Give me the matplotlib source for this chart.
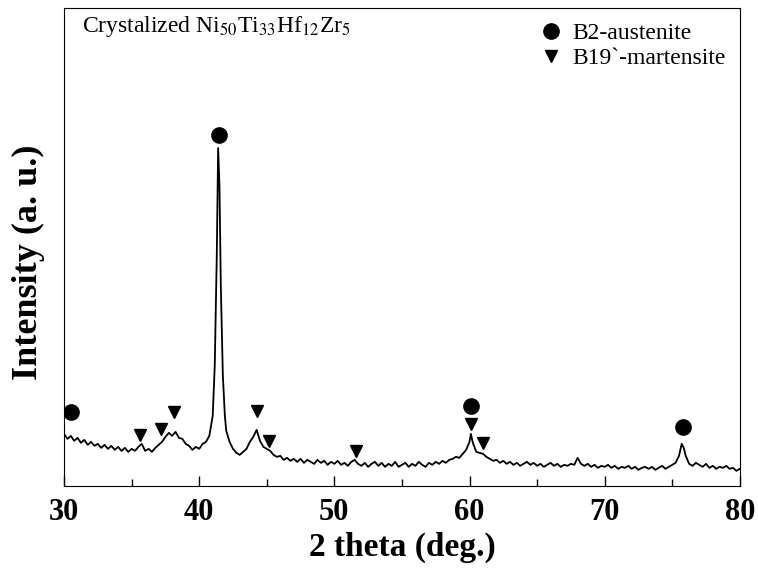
import matplotlib
matplotlib.use('Agg')
import matplotlib.pyplot as plt
from matplotlib.ticker import MultipleLocator

plt.rcParams['font.family'] = ['Liberation Serif', 'DejaVu Serif']
plt.rcParams['mathtext.fontset'] = 'stix'

# XRD pattern (intensity in arbitrary units)
two_theta = [30.0, 30.25, 30.5, 30.75, 31.0, 31.25, 31.5, 31.75, 32.0, 32.25, 32.5, 32.75,
             33.0, 33.25, 33.5, 33.75, 34.0, 34.25, 34.5, 34.75, 35.0, 35.25, 35.5, 35.75,
             36.0, 36.25, 36.5, 36.75, 37.0, 37.25, 37.5, 37.75, 38.0, 38.25, 38.5, 38.75,
             39.0, 39.25, 39.5, 39.75, 40.0, 40.25, 40.5, 40.75,
             41.0, 41.15, 41.3, 41.4, 41.5, 41.6, 41.75, 41.9, 42.0,
             42.25, 42.5, 42.75, 43.0, 43.25, 43.5, 43.75, 44.0, 44.25, 44.5, 44.75,
             45.0, 45.25, 45.5, 45.75, 46.0, 46.25, 46.5, 46.75, 47.0, 47.25, 47.5, 47.75,
             48.0, 48.25, 48.5, 48.75, 49.0, 49.25, 49.5, 49.75, 50.0, 50.25, 50.5, 50.75,
             51.0, 51.25, 51.5, 51.75, 52.0, 52.25, 52.5, 52.75, 53.0, 53.25, 53.5, 53.75,
             54.0, 54.25, 54.5, 54.75, 55.0, 55.25, 55.5, 55.75, 56.0, 56.25, 56.5, 56.75,
             57.0, 57.25, 57.5, 57.75, 58.0, 58.25, 58.5, 58.75, 59.0, 59.25, 59.5, 59.75,
             60.0, 60.1, 60.25, 60.5, 60.75, 61.0, 61.25, 61.5, 61.75,
             62.0, 62.25, 62.5, 62.75, 63.0, 63.25, 63.5, 63.75, 64.0, 64.25, 64.5, 64.75,
             65.0, 65.25, 65.5, 65.75, 66.0, 66.25, 66.5, 66.75, 67.0, 67.25, 67.5, 67.75,
             68.0, 68.25, 68.5, 68.75, 69.0, 69.25, 69.5, 69.75, 70.0, 70.25, 70.5, 70.75,
             71.0, 71.25, 71.5, 71.75, 72.0, 72.25, 72.5, 72.75, 73.0, 73.25, 73.5, 73.75,
             74.0, 74.25, 74.5, 74.75, 75.0, 75.25, 75.5, 75.7, 75.85, 76.0, 76.25, 76.5,
             76.75, 77.0, 77.25, 77.5, 77.75, 78.0, 78.25, 78.5, 78.75, 79.0, 79.25, 79.5,
             79.75, 80.0]
intensity = [52, 47, 50, 45, 48, 43, 46, 41, 44, 40, 42, 38,
             41, 37, 40, 36, 39, 35, 38, 34, 37, 35, 39, 42,
             35, 37, 34, 38, 41, 44, 49, 53, 50, 54, 48, 47,
             42, 40, 36, 39, 37, 42, 44, 50,
             70, 120, 230, 338, 300, 200, 110, 70, 55,
             44, 37, 33, 31, 34, 37, 44, 49, 56, 45, 39,
             37, 35, 31, 29, 30, 26, 28, 25, 27, 24, 27, 23,
             26, 24, 22, 26, 23, 25, 21, 24, 22, 25, 21, 23,
             20, 24, 26, 22, 20, 23, 19, 22, 24, 20, 23, 19,
             22, 20, 24, 19, 21, 23, 19, 22, 20, 24, 21, 19,
             23, 21, 24, 22, 25, 23, 26, 27, 29, 28, 32, 36,
             44, 52, 43, 34, 33, 32, 29, 27, 25,
             26, 23, 25, 22, 24, 21, 23, 20, 22, 24, 21, 23,
             20, 22, 19, 21, 23, 20, 22, 19, 21, 20, 22, 21,
             28, 22, 20, 22, 19, 21, 18, 20, 19, 21, 18, 20,
             17, 19, 18, 20, 17, 19, 16, 18, 19, 17, 19, 16,
             18, 20, 17, 19, 21, 23, 30, 42, 38, 30, 22, 20,
             23, 21, 19, 22, 18, 20, 17, 19, 18, 20, 17, 18,
             15, 17]

# phase markers
b2_x = [30.5, 41.45, 60.1, 75.8]
b2_y = [74, 351, 80, 59]
b19_x = [35.6, 37.2, 38.1, 44.3, 45.2, 51.6, 60.1, 61.0]
b19_y = [51, 57, 74, 75, 45, 35, 62, 43]

fig = plt.figure(figsize=(7.58, 5.77), dpi=100)
ax = fig.add_axes([0.0845, 0.158, 0.8915, 0.828])

ax.plot(two_theta, intensity, color='black', lw=1.3)
ax.plot(b2_x, b2_y, 'o', color='black', ms=11, label='B2-austenite')
ax.plot(b19_x, b19_y, 'v', color='black', ms=9, label='B19`-martensite')

ax.set_xlim(30, 80)
ax.set_ylim(0, 478)
ax.xaxis.set_major_locator(MultipleLocator(10))
ax.xaxis.set_minor_locator(MultipleLocator(5))
ax.tick_params(axis='x', which='both', direction='in', top=False)
ax.tick_params(axis='x', which='major', length=7, width=1, labelsize=22, pad=9)
ax.tick_params(axis='x', which='minor', length=5, width=1)
ax.tick_params(axis='y', left=False, labelleft=False)
for lab in ax.get_xticklabels():
    lab.set_fontweight('bold')

ax.set_xlabel('2 theta (deg.)', fontsize=24, fontweight='bold', labelpad=3)
ax.set_ylabel('Intensity (a. u.)', fontsize=26, fontweight='bold')
ax.yaxis.set_label_coords(-0.028, 0.469)

ax.text(0.026, 0.962, r'Crystalized Ni$_{50}$Ti$_{33}$Hf$_{12}$Zr$_{5}$',
        transform=ax.transAxes, fontsize=17, va='center', ha='left')

ax.legend(loc='upper right', frameon=False, fontsize=17, handlelength=0.8,
          handletextpad=0.5, borderaxespad=0.2, labelspacing=0.15)

fig.savefig('out.png', dpi=100)
plt.close(fig)
